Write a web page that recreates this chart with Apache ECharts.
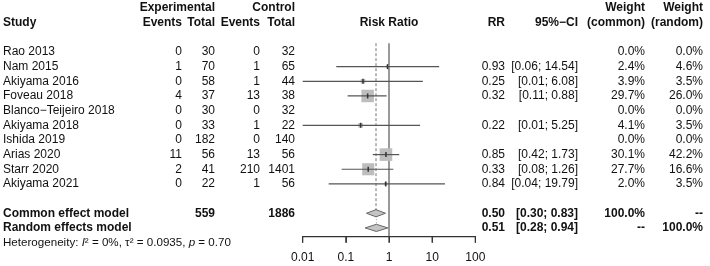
<!DOCTYPE html>
<html>
<head>
<meta charset="utf-8">
<script src="https://cdn.jsdelivr.net/npm/echarts@6/dist/echarts.min.js"></script>
<style>
  html, body { margin: 0; padding: 0; background: #fff; }
  #chart { width: 710px; height: 266px; }
</style>
</head>
<body>
<div id="chart"></div>
<script>
// study table
const studies = ['Rao 2013', 'Nam 2015', 'Akiyama 2016', 'Foveau 2018', 'Blanco\u2212Teijeiro 2018',
  'Akiyama 2018', 'Ishida 2019', 'Arias 2020', 'Starr 2020', 'Akiyama 2021'];
const expEvents = [0, 1, 0, 4, 0, 0, 0, 11, 2, 0];
const expTotal = [30, 70, 58, 37, 30, 33, 182, 56, 41, 22];
const ctlEvents = [0, 1, 1, 13, 0, 1, 0, 13, 210, 1];
const ctlTotal = [32, 65, 44, 38, 32, 22, 140, 56, 1401, 56];
const rr = [null, 0.93, 0.25, 0.32, null, 0.22, null, 0.85, 0.33, 0.84];
const ciLow = [null, 0.06, 0.01, 0.11, null, 0.01, null, 0.42, 0.08, 0.04];
const ciHigh = [null, 14.54, 6.08, 0.88, null, 5.25, null, 1.73, 1.26, 19.79];
const wCommon = [0.0, 2.4, 3.9, 29.7, 0.0, 4.1, 0.0, 30.1, 27.7, 2.0];
const wRandom = [0.0, 4.6, 3.5, 26.0, 0.0, 3.5, 0.0, 42.2, 16.6, 3.5];
// pooled estimates: [rr, lower, upper]
const commonEffect = [0.50, 0.30, 0.83];
const randomEffect = [0.51, 0.28, 0.94];
const hetero = { i2: '0%', tau2: '0.0935', p: '0.70' };
const xTicks = [0.01, 0.1, 1, 10, 100];

const FONT = '"Liberation Sans", Arial, sans-serif';
const TXT = '#111';
const LINE = '#555';
// right edges of the text columns (px)
const colX = { study: 3, expE: 182, expT: 215, ctlE: 260, ctlT: 295, rr: 505, ci: 578, wC: 645, wR: 703 };
const commonRow = 11, randomRow = 12, axisRow = 12.6;

const f2 = v => v.toFixed(2);
const pct = v => v.toFixed(1) + '%';
const sum = a => a.reduce((s, v) => s + v, 0);

function txt(str, x, y, align, bold, size) {
  return {
    type: 'text',
    style: {
      text: str, x: x, y: y, align: align || 'right', verticalAlign: 'middle',
      fill: TXT, font: (bold ? 'bold ' : '') + (size || 12) + 'px ' + FONT
    }
  };
}
function ciText(lo, hi) {
  return '[' + f2(lo) + '; ' + f2(hi) + ']';
}

const chart = echarts.init(document.getElementById('chart'));

chart.setOption({
  animation: false,
  grid: { left: 302.7, right: 234.7, top: 8, bottom: 29.3 },
  xAxis: {
    type: 'log', logBase: 10, position: 'bottom',
    min: xTicks[0], max: xTicks[xTicks.length - 1],
    axisLine: { show: true, onZero: false, lineStyle: { color: '#444', width: 1 } },
    axisTick: { show: true, length: 6, lineStyle: { color: '#444', width: 1 } },
    axisLabel: { color: TXT, fontSize: 12, fontFamily: FONT, margin: 15,
      formatter: v => String(+v.toPrecision(3)) },
    splitLine: { show: false },
    minorTick: { show: false }
  },
  yAxis: { type: 'value', min: -3, max: axisRow, inverse: true, show: false },
  series: [
    { // reference lines
      type: 'custom', clip: false, z: 1,
      data: [[1, 0]],
      renderItem: function (params, api) {
        const top = api.coord([1, -0.6])[1];
        const bot = api.coord([1, axisRow])[1];
        const xc = api.coord([commonEffect[0], 0])[0];
        const xr = api.coord([randomEffect[0], 0])[0];
        const x1 = api.coord([1, 0])[0];
        const yc = api.coord([1, commonRow])[1];
        const yr = api.coord([1, randomRow])[1];
        return { type: 'group', children: [
          { type: 'line', shape: { x1: x1, y1: top, x2: x1, y2: bot }, style: { stroke: LINE, lineWidth: 1.2 } },
          { type: 'line', shape: { x1: xc, y1: top, x2: xc, y2: yc }, style: { stroke: '#777', lineWidth: 1, lineDash: [3, 2] } },
          { type: 'line', shape: { x1: xr, y1: yc, x2: xr, y2: yr }, style: { stroke: '#999', lineWidth: 1, lineDash: [1, 2] } }
        ] };
      }
    },
    { // x axis line and ticks, placed through the axis scale
      type: 'custom', clip: false, z: 10,
      data: xTicks.map(t => [t, axisRow]),
      renderItem: function (params, api) {
        const t = xTicks[params.dataIndex];
        const p = api.coord([t, axisRow]);
        const c = [{ type: 'rect', shape: { x: p[0] - 0.6, y: p[1], width: 1.2, height: 6 }, style: { fill: '#333' } }];
        if (params.dataIndex === 0) {
          const q = api.coord([xTicks[xTicks.length - 1], axisRow]);
          c.push({ type: 'rect', shape: { x: p[0] - 0.6, y: p[1] - 0.6, width: q[0] - p[0] + 1.2, height: 1.2 }, style: { fill: '#333' } });
        }
        return { type: 'group', children: c };
      }
    },
    { // study estimates
      type: 'custom', clip: false, z: 3,
      data: studies.map((s, i) => [rr[i] == null ? 1 : rr[i], i]),
      renderItem: function (params, api) {
        const i = params.dataIndex;
        if (rr[i] == null) return null;
        const y = api.coord([1, i])[1];
        const x0 = api.coord([ciLow[i], i])[0];
        const x1 = api.coord([ciHigh[i], i])[0];
        const xc = api.coord([rr[i], i])[0];
        const side = 12.6 * Math.sqrt(wCommon[i] / 30.1);
        return { type: 'group', children: [
          { type: 'rect', shape: { x: xc - side / 2, y: y - side / 2, width: side, height: side }, style: { fill: '#bdbdbd' } },
          { type: 'line', shape: { x1: x0, y1: y, x2: x1, y2: y }, style: { stroke: LINE, lineWidth: 1.2 } },
          { type: 'line', shape: { x1: xc, y1: y - 2.5, x2: xc, y2: y + 2.5 }, style: { stroke: '#333', lineWidth: 1.5 } }
        ] };
      }
    },
    { // pooled diamonds
      type: 'custom', clip: false, z: 3,
      data: [[commonEffect[0], commonRow], [randomEffect[0], randomRow]],
      renderItem: function (params, api) {
        const e = params.dataIndex === 0 ? commonEffect : randomEffect;
        const row = params.dataIndex === 0 ? commonRow : randomRow;
        const y = api.coord([1, row])[1];
        const xl = api.coord([e[1], row])[0];
        const xm = api.coord([e[0], row])[0];
        const xh = api.coord([e[2], row])[0];
        return { type: 'polygon', shape: { points: [[xl, y], [xm, y - 3.6], [xh, y], [xm, y + 3.6]] },
          style: { fill: '#c4c4c4', stroke: '#666', lineWidth: 1 } };
      }
    },
    { // study table text
      type: 'custom', clip: false, z: 5,
      data: studies.map((s, i) => [1, i]),
      renderItem: function (params, api) {
        const i = params.dataIndex;
        const y = api.coord([1, i])[1];
        const c = [
          txt(studies[i], colX.study, y, 'left'),
          txt(String(expEvents[i]), colX.expE, y),
          txt(String(expTotal[i]), colX.expT, y),
          txt(String(ctlEvents[i]), colX.ctlE, y),
          txt(String(ctlTotal[i]), colX.ctlT, y),
          txt(pct(wCommon[i]), colX.wC, y),
          txt(pct(wRandom[i]), colX.wR, y)
        ];
        if (rr[i] != null) {
          c.push(txt(f2(rr[i]), colX.rr, y));
          c.push(txt(ciText(ciLow[i], ciHigh[i]), colX.ci, y));
        }
        return { type: 'group', children: c };
      }
    },
    { // header, pooled rows, heterogeneity
      type: 'custom', clip: false, z: 5,
      data: [[1, 0]],
      renderItem: function (params, api) {
        const yRow = r => api.coord([1, r])[1];
        const h1 = yRow(-3), h2 = yRow(-2);
        const yc = yRow(commonRow), yr = yRow(randomRow), yh = yRow(13);
        const riskX = api.coord([1, 0])[0];
        return { type: 'group', children: [
          txt('Experimental', colX.expT, h1, 'right', true),
          txt('Control', colX.ctlT, h1, 'right', true),
          txt('Weight', colX.wC, h1, 'right', true),
          txt('Weight', colX.wR, h1, 'right', true),
          txt('Study', colX.study, h2, 'left', true),
          txt('Events', colX.expE, h2, 'right', true),
          txt('Total', colX.expT, h2, 'right', true),
          txt('Events', colX.ctlE, h2, 'right', true),
          txt('Total', colX.ctlT, h2, 'right', true),
          txt('Risk Ratio', riskX, h2, 'center', true),
          txt('RR', colX.rr, h2, 'right', true),
          txt('95%\u2212CI', colX.ci, h2, 'right', true),
          txt('(common)', colX.wC, h2, 'right', true),
          txt('(random)', colX.wR, h2, 'right', true),

          txt('Common effect model', colX.study, yc, 'left', true),
          txt(String(sum(expTotal)), colX.expT, yc, 'right', true),
          txt(String(sum(ctlTotal)), colX.ctlT, yc, 'right', true),
          txt(f2(commonEffect[0]), colX.rr, yc, 'right', true),
          txt(ciText(commonEffect[1], commonEffect[2]), colX.ci, yc, 'right', true),
          txt('100.0%', colX.wC, yc, 'right', true),
          txt('--', colX.wR, yc, 'right', true),

          txt('Random effects model', colX.study, yr, 'left', true),
          txt(f2(randomEffect[0]), colX.rr, yr, 'right', true),
          txt(ciText(randomEffect[1], randomEffect[2]), colX.ci, yr, 'right', true),
          txt('--', colX.wC, yr, 'right', true),
          txt('100.0%', colX.wR, yr, 'right', true),

          { type: 'text', style: {
            text: '{n|Heterogeneity: }{i|I}{n|\u00b2 = ' + hetero.i2 + ', \u03c4\u00b2 = ' + hetero.tau2 + ', }{i|p}{n| = ' + hetero.p + '}',
            x: colX.study, y: yh, align: 'left', verticalAlign: 'middle', fill: TXT,
            rich: {
              n: { fontSize: 11.6, fontFamily: FONT, fill: TXT },
              i: { fontSize: 11.6, fontFamily: FONT, fontStyle: 'italic', fill: TXT }
            }
          } }
        ] };
      }
    }
  ]
});
</script>
</body>
</html>
